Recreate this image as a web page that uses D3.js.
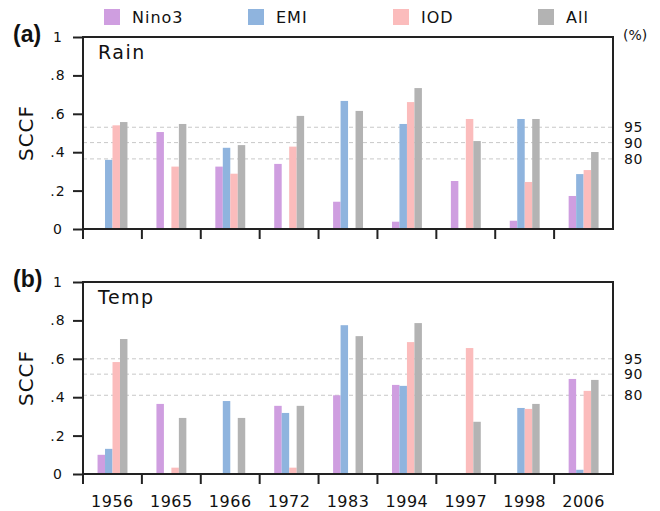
<!DOCTYPE html>
<html>
<head>
<meta charset="utf-8">
<script src="https://cdn.jsdelivr.net/npm/d3@7"></script>
<style>
  body { margin: 0; background: #fff; }
  text { font-family: "DejaVu Sans", sans-serif; fill: #111; }
</style>
</head>
<body>
<div id="chart"></div>
<script>
var years = ["1956", "1965", "1966", "1972", "1983", "1994", "1997", "1998", "2006"],
    series = ["Nino3", "EMI", "IOD", "All"],
    colors = ["#cf9ee0", "#8fb4de", "#fbbcbc", "#b3b3b3"],
    yTicks = [0, 0.2, 0.4, 0.6, 0.8, 1],
    sigLabels = ["95", "90", "80"]

// values per year: Nino3, EMI, IOD, All (null = no bar)
var rain = [
    [null, 0.36, 0.54, 0.557],
    [0.505, null, 0.325, 0.547],
    [0.325, 0.423, 0.288, 0.437],
    [0.339, null, 0.429, 0.589],
    [0.142, 0.667, null, 0.615],
    [0.038, 0.547, 0.661, 0.734],
    [0.25, null, 0.573, 0.458],
    [0.043, 0.573, 0.245, 0.573],
    [0.172, 0.286, 0.307, 0.401]
]
var temp = [
    [0.10, 0.131, 0.583, 0.703],
    [0.365, null, 0.033, 0.292],
    [null, 0.38, null, 0.292],
    [0.355, 0.318, 0.033, 0.355],
    [0.41, 0.775, null, 0.718],
    [0.464, 0.459, 0.687, 0.786],
    [null, null, 0.656, 0.272],
    [null, 0.344, 0.339, 0.365],
    [0.495, 0.022, 0.433, 0.49]
]
var rainSig = [0.53, 0.45, 0.365],
    tempSig = [0.60, 0.52, 0.41]

var W = 660, H = 511,
    LEFT = 83, RIGHT = 613

var svg = d3.select("#chart").append("svg")
    .attr("width", W)
    .attr("height", H)

var x = d3.scaleBand().domain(years).range([LEFT, RIGHT])
var bw = x.bandwidth()
var x1 = d3.scaleBand().domain(series).range([bw * 0.247, bw * 0.755])

// legend
var legendX = [104, 248, 393, 538]
var leg = svg.append("g")
series.forEach(function(s, i) {
    leg.append("rect")
        .attr("x", legendX[i]).attr("y", 9)
        .attr("width", 16).attr("height", 16)
        .attr("fill", colors[i])
    leg.append("text")
        .attr("x", legendX[i] + 28).attr("y", 23)
        .style("font-size", "16px")
        .style("letter-spacing", "1px")
        .text(s)
})

function panel(top, bottom, data, sig, tag, name, showYears) {
    var y = d3.scaleLinear().domain([0, 1]).range([bottom, top])
    var g = svg.append("g")

    // significance lines
    sig.forEach(function(v, i) {
        g.append("line")
            .attr("x1", LEFT).attr("x2", RIGHT)
            .attr("y1", y(v)).attr("y2", y(v))
            .attr("stroke", "#c8c8c8")
            .attr("stroke-width", 1)
            .attr("stroke-dasharray", "4,3")
        g.append("text")
            .attr("x", 624).attr("y", y(v) + 5)
            .style("font-size", "14px")
            .style("letter-spacing", "0.5px")
            .text(sigLabels[i])
    })

    // bars
    var grp = g.selectAll("g.year")
        .data(data)
        .join("g")
        .attr("class", "year")
        .attr("transform", function(d, i) { return "translate(" + x(years[i]) + ",0)" })
    grp.selectAll("rect")
        .data(function(d) {
            return d.map(function(v, j) { return { s: series[j], v: v, c: colors[j] } })
                .filter(function(e) { return e.v != null })
        })
        .join("rect")
        .attr("x", function(d) { return x1(d.s) })
        .attr("width", x1.bandwidth())
        .attr("y", function(d) { return y(d.v) })
        .attr("height", function(d) { return bottom - y(d.v) })
        .attr("fill", function(d) { return d.c })

    // frame
    g.append("rect")
        .attr("x", LEFT).attr("y", top)
        .attr("width", RIGHT - LEFT).attr("height", bottom - top)
        .attr("fill", "none")
        .attr("stroke", "#222")
        .attr("stroke-width", 2)

    // y axis
    var ya = g.append("g")
        .attr("transform", "translate(" + LEFT + ",0)")
        .call(d3.axisLeft(y).tickValues(yTicks).tickSize(10).tickFormat(function(v) {
            if (v === 0) return "0"
            if (v === 1) return "1"
            return d3.format(".1f")(v).replace(/^0/, "")
        }))
    ya.select(".domain").remove()
    ya.selectAll(".tick line").attr("stroke", "#222").attr("stroke-width", 2)
    ya.selectAll(".tick text")
        .attr("x", -25)
        .attr("text-anchor", "middle")
        .style("font-family", "DejaVu Sans, sans-serif")
        .style("font-size", "14px")
        .style("letter-spacing", "1px")
        .attr("fill", "#111")

    // x ticks at category boundaries
    g.selectAll("line.xt")
        .data(years)
        .join("line")
        .attr("class", "xt")
        .attr("x1", function(d) { return x(d) })
        .attr("x2", function(d) { return x(d) })
        .attr("y1", bottom).attr("y2", bottom + 10)
        .attr("stroke", "#222")
        .attr("stroke-width", 2)

    if (showYears) {
        var xa = g.append("g")
            .attr("transform", "translate(0," + bottom + ")")
            .call(d3.axisBottom(x).tickSize(0).tickPadding(22))
        xa.select(".domain").remove()
        xa.selectAll(".tick text")
            .style("font-family", "DejaVu Sans, sans-serif")
            .style("font-size", "16px")
            .style("letter-spacing", "0.5px")
            .attr("fill", "#111")
    }

    // labels
    g.append("text")
        .attr("x", 13).attr("y", top + 5)
        .style("font-family", "Liberation Sans, Arial, sans-serif")
        .style("font-weight", "bold")
        .style("font-size", "23px")
        .text(tag)
    g.append("text")
        .attr("x", 98).attr("y", top + 22)
        .style("font-size", "19px")
        .style("letter-spacing", "1.5px")
        .text(name)
    g.append("text")
        .attr("transform", "translate(33," + ((top + bottom) / 2) + ") rotate(-90)")
        .attr("text-anchor", "middle")
        .style("font-size", "20px")
        .style("letter-spacing", "1px")
        .text("SCCF")
}

panel(37, 229, rain, rainSig, "(a)", "Rain", false)
panel(282, 474, temp, tempSig, "(b)", "Temp", true)

svg.append("text")
    .attr("x", 623).attr("y", 40)
    .style("font-size", "14px")
    .text("(%)")
</script>
</body>
</html>
